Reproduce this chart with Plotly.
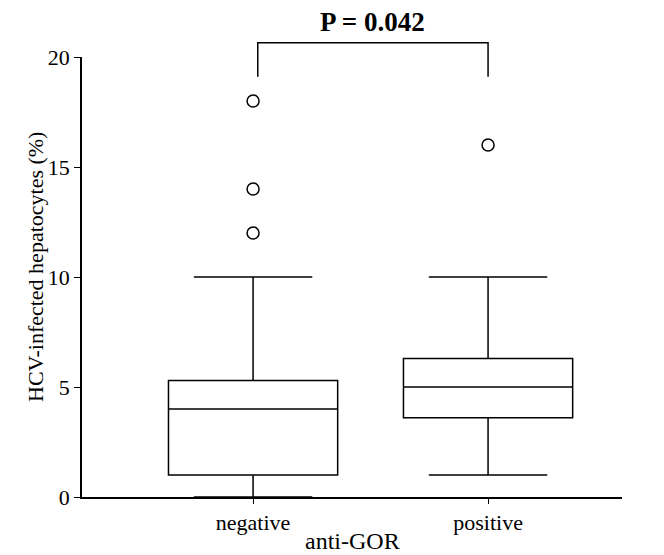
import plotly.graph_objects as go

categories = ["negative", "positive"]
q1 = [1.0, 3.6]
median = [4.0, 5.0]
q3 = [5.3, 6.3]
lower_fence = [0.0, 1.0]
upper_fence = [10.0, 10.0]
outliers = [[12, 14, 18], [16]]
y_ticks = [0, 5, 10, 15, 20]
p_text = "P = 0.042"
x_title = "anti-GOR"
y_title = "HCV-infected hepatocytes (%)"

FONT = "Liberation Serif"
X_RANGE = [-0.728, 1.57]
Y_RANGE = [0, 20]

def xp(v):
    return (v - X_RANGE[0]) / (X_RANGE[1] - X_RANGE[0])

def yp(v):
    return (v - Y_RANGE[0]) / (Y_RANGE[1] - Y_RANGE[0])

fig = go.Figure()
for i, cat in enumerate(categories):
    fig.add_trace(go.Box(
        x=[i], q1=[q1[i]], median=[median[i]], q3=[q3[i]],
        lowerfence=[lower_fence[i]], upperfence=[upper_fence[i]],
        width=0.72, whiskerwidth=0.7,
        fillcolor="white", line=dict(color="black", width=1.5),
        boxpoints=False, showlegend=False, name=cat, hoverinfo="skip",
    ))
    fig.add_trace(go.Scatter(
        x=[i] * len(outliers[i]), y=outliers[i], mode="markers",
        marker=dict(symbol="circle-open", size=12, color="black", line=dict(width=1.5)),
        showlegend=False, cliponaxis=False,
    ))

# significance bracket (paper coordinates so it is not clipped)
x0, x1 = xp(0.02), xp(1.0)
yb, yt = yp(19.1), yp(20.65)
fig.add_shape(type="path", xref="paper", yref="paper",
              path=f"M {x0} {yb} L {x0} {yt} L {x1} {yt} L {x1} {yb}",
              line=dict(color="black", width=1.5))
fig.add_annotation(x=(x0 + x1) / 2, y=yt, xref="paper", yref="paper", text="<b>%s</b>" % p_text,
                   showarrow=False, yanchor="bottom", yshift=4,
                   font=dict(family=FONT, size=27, color="black"))

# axis titles as annotations for precise placement
fig.add_annotation(x=0.5, y=-0.1, xref="paper", yref="paper", text=x_title,
                   showarrow=False, xanchor="center", yanchor="middle",
                   font=dict(family=FONT, size=24, color="black"))
fig.add_annotation(x=-0.085, y=0.523, xref="paper", yref="paper", text=y_title,
                   showarrow=False, xanchor="center", yanchor="middle", textangle=-90,
                   font=dict(family=FONT, size=22, color="black"))

fig.update_layout(
    width=664, height=555,
    margin=dict(l=82, r=42, t=57, b=58),
    paper_bgcolor="white", plot_bgcolor="white",
    font=dict(family=FONT, size=22, color="black"),
)
fig.update_xaxes(
    range=X_RANGE, tickvals=[0, 1], ticktext=categories, automargin=False,
    showline=True, linecolor="black", linewidth=1.5, ticks="outside", ticklen=5,
    tickcolor="black", showgrid=False, zeroline=False,
)
fig.update_yaxes(
    range=Y_RANGE, tickvals=y_ticks, ticktext=[str(v) for v in y_ticks], automargin=False,
    showline=True, linecolor="black", linewidth=1.5, ticks="outside", ticklen=6,
    tickcolor="black", showgrid=False, zeroline=False,
)
fig.write_html(
    "out.html",
    config={"displayModeBar": False},
    post_script="document.body.style.margin='0px';document.documentElement.style.overflow='hidden';",
)
